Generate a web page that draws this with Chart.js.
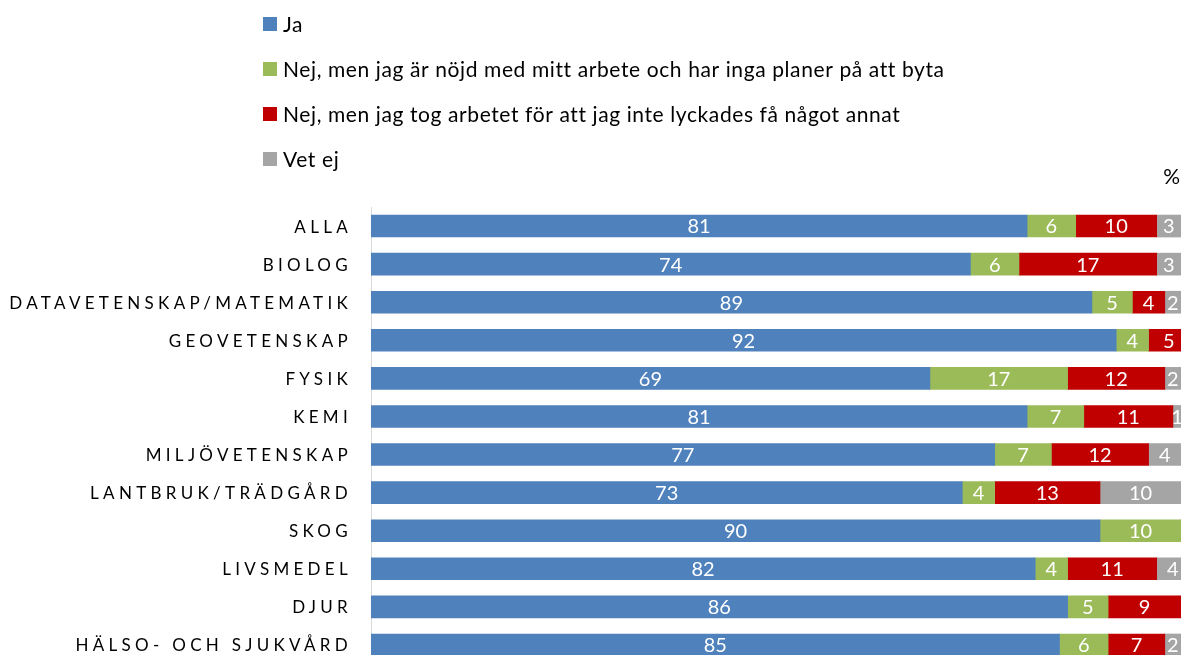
<!DOCTYPE html>
<html>
<head>
<meta charset="utf-8">
<script src="https://cdn.jsdelivr.net/npm/chart.js@4/dist/chart.umd.min.js"></script>
<style>
  html, body { margin: 0; padding: 0; background: #fff; overflow: hidden; }
  #wrap { position: relative; width: 1181px; height: 655px; overflow: hidden; }
  canvas { display: block; }
</style>
</head>
<body>
<div id="wrap"><canvas id="c" width="1181" height="664"></canvas></div>
<script>
const categories = ["ALLA","BIOLOG","DATAVETENSKAP/MATEMATIK","GEOVETENSKAP","FYSIK","KEMI","MILJÖVETENSKAP","LANTBRUK/TRÄDGÅRD","SKOG","LIVSMEDEL","DJUR","HÄLSO- OCH SJUKVÅRD"];
const seriesNames = ["Ja","Nej, men jag är nöjd med mitt arbete och har inga planer på att byta","Nej, men jag tog arbetet för att jag inte lyckades få något annat","Vet ej"];
const ja      = [81, 74, 89, 92, 69, 81, 77, 73, 90, 82, 86, 85];
const nejNojd = [ 6,  6,  5,  4, 17,  7,  7,  4, 10,  4,  5,  6];
const nejTog  = [10, 17,  4,  5, 12, 11, 12, 13,  0, 11,  9,  7];
const vetEj   = [ 3,  3,  2,  0,  2,  1,  4, 10,  0,  4,  0,  2];
const unitLabel = "%";
const colors = ["#4F81BD", "#9BBB59", "#C00000", "#A5A5A5"];

const FONT = "Lato, 'Open Sans', sans-serif";

const customDraw = {
  id: 'customDraw',
  afterDraw(chart) {
    const ctx = chart.ctx;
    // legend (vertical list)
    ctx.save();
    ctx.font = "21px " + FONT;
    ctx.letterSpacing = "0.6px";
    ctx.textBaseline = "middle";
    ctx.textAlign = "left";
    chart.data.datasets.forEach((ds, i) => {
      const cy = 24 + i * 45;
      ctx.fillStyle = ds.backgroundColor;
      ctx.fillRect(263, cy - 7, 14, 14);
      ctx.fillStyle = "#000";
      ctx.fillText(ds.label, 283, cy + 1);
    });
    ctx.restore();
    // unit label
    ctx.save();
    ctx.font = "21px " + FONT;
    ctx.fillStyle = "#000";
    ctx.textBaseline = "middle";
    ctx.textAlign = "right";
    ctx.fillText(unitLabel, 1180, 177);
    ctx.restore();

    // category labels with letter spacing
    const ys = chart.scales.y;
    ctx.save();
    ctx.font = "17px " + FONT;
    ctx.letterSpacing = "4.3px";
    ctx.fillStyle = "#000";
    ctx.textAlign = "right";
    ctx.textBaseline = "middle";
    categories.forEach((c, i) => {
      ctx.fillText(c, 352, ys.getPixelForValue(i) + 1);
    });
    ctx.restore();

    // value labels
    ctx.save();
    ctx.font = "20px " + FONT;
    ctx.fillStyle = "#fff";
    ctx.textAlign = "center";
    ctx.textBaseline = "middle";
    const area = chart.chartArea;
    ctx.beginPath();
    ctx.rect(area.left, area.top, area.right - area.left, area.bottom - area.top);
    ctx.clip();
    chart.data.datasets.forEach((ds, di) => {
      const meta = chart.getDatasetMeta(di);
      meta.data.forEach((el, i) => {
        const v = ds.data[i];
        if (!v) return;
        const cx = (el.x + el.base) / 2;
        ctx.fillText(String(v), cx, el.y + 1);
      });
    });
    ctx.restore();
  }
};

new Chart(document.getElementById('c'), {
  type: 'bar',
  data: {
    labels: categories,
    datasets: [ja, nejNojd, nejTog, vetEj].map((d, i) => ({
      label: seriesNames[i],
      data: d,
      backgroundColor: colors[i],
      borderWidth: 0,
      barThickness: 22
    }))
  },
  options: {
    indexAxis: 'y',
    responsive: false,
    animation: false,
    layout: { padding: { top: 207, left: 0, right: 0, bottom: 0 } },
    plugins: { legend: { display: false }, tooltip: { enabled: false } },
    scales: {
      x: { stacked: true, min: 0, max: 100, display: false },
      y: {
        stacked: true,
        grid: { display: false, drawTicks: false },
        border: { display: true, color: "#D9D9D9", width: 1 },
        ticks: { display: false },
        afterFit(scale) { scale.width = 371; }
      }
    }
  },
  plugins: [customDraw]
});
</script>
</body>
</html>
